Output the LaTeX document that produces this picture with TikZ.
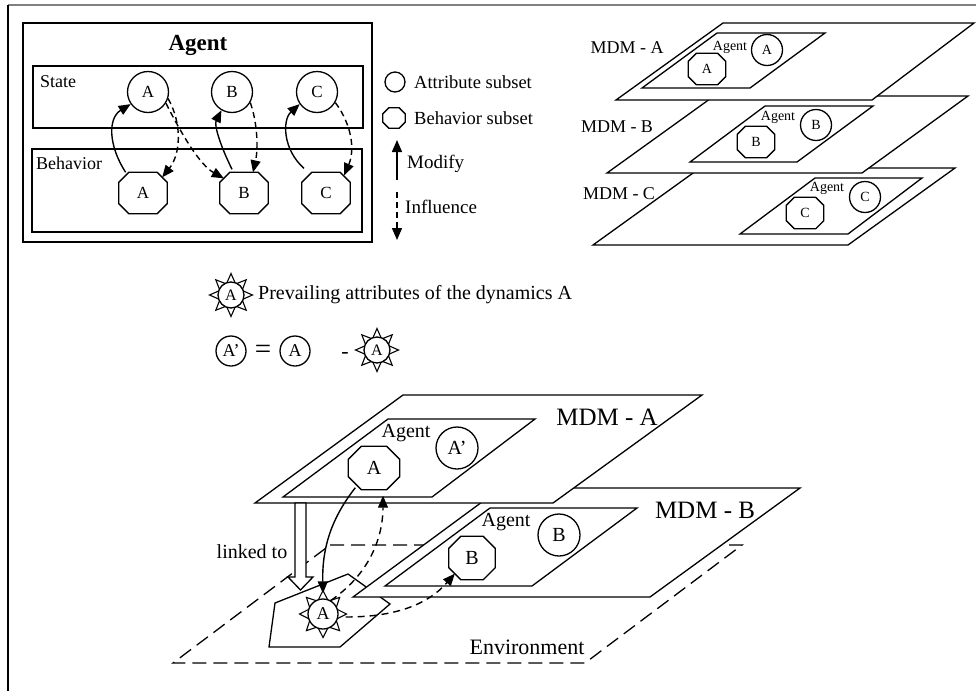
\documentclass[tikz,border=0pt]{standalone}
\usepackage{fontspec}
\setmainfont{Liberation Serif}
\usetikzlibrary{arrows.meta,calc}
\newcommand{\fs}[1]{\fontsize{#1}{#1}\selectfont}
% octagon node: name, position, width, height, chamfer, font size, text
\newcommand{\octnode}[7]{%
  \node[oct, minimum width=#3pt, minimum height=#4pt] (#1) at (#2) {};
  \draw[ln, fill=white, line join=miter] ([xshift=#5pt]#1.north west) -- ([xshift=-#5pt]#1.north east) -- ([yshift=-#5pt]#1.north east) -- ([yshift=#5pt]#1.south east) -- ([xshift=-#5pt]#1.south east) -- ([xshift=#5pt]#1.south west) -- ([yshift=#5pt]#1.south west) -- ([yshift=-#5pt]#1.north west) -- cycle;
  \node[lbl, font=\fs{#6}] (#1-t) at (#1) {#7};
}
% sun node: name, position, radius, font size, text
\newcommand{\sunnode}[5]{%
  \begin{scope}[shift={(#2)}]
    \foreach \a in {0,45,...,315}
      \draw[line width=1.1pt, fill=white, line join=miter] (\a-18:#3) -- (\a:#3+8.5) -- (\a+18:#3) -- cycle;
  \end{scope}
  \node[attr, minimum size=2*#3pt, font=\fs{#4}] (#1) at (#2) {#5};
}
\begin{document}
\begin{tikzpicture}[x=1pt,y=-1pt,
  ln/.style={line width=1.3pt},
  plane/.style={line width=1.3pt, fill=white, line join=miter},
  attr/.style={circle, draw, line width=1.3pt, fill=white, inner sep=0pt},
  oct/.style={draw=none, inner sep=0pt},
  lbl/.style={inner sep=0pt},
  modarrow/.style={line width=1.4pt, -{Triangle[length=12pt,width=10pt]}},
  infarrow/.style={line width=1.4pt, dash pattern=on 6pt off 4pt, -{Triangle[length=12pt,width=10pt]}},
  envline/.style={line width=1.3pt, dash pattern=on 14pt off 7pt},
  curvedash/.style={line width=1.4pt, dash pattern=on 7pt off 5pt, -{Triangle[length=12pt,width=10pt]}},
]
\useasboundingbox (0,0) rectangle (976,691);
% frame
\draw[gray, line width=1.3pt] (8,5) -- (976,5);
\draw[line width=1.2pt] (8,5) -- (8,691);

% ---------------- Agent box ----------------
\draw[line width=1.4pt] (23,23) rectangle (372,242);
\node[lbl, font=\bfseries\fs{23}] (ttl) at (198,45) {Agent};
\draw[line width=1.4pt] (33,66) rectangle (363,128);
\node[lbl, anchor=west, font=\fs{18}] (stl) at (40,82) {State};
\draw[line width=1.4pt] (32,149) rectangle (362,232);
\node[lbl, anchor=west, font=\fs{18}] (bhl) at (36,163) {Behavior};

\node[attr, minimum size=41pt, font=\fs{17}] (sA) at (148,92) {A};
\node[attr, minimum size=41pt, font=\fs{17}] (sB) at (232,92) {B};
\node[attr, minimum size=41pt, font=\fs{17}] (sC) at (317,92) {C};
\octnode{bA}{143,193}{48}{41}{10}{17}{A}
\octnode{bB}{244,193}{48}{41}{10}{17}{B}
\octnode{bC}{326,193}{48}{41}{10}{17}{C}

\draw[modarrow] (bA.130) .. controls (108,145) and (108,118) .. (sA.215);
\draw[infarrow] (sA.-18) .. controls (183,125) and (180,155) .. ([xshift=-5pt,yshift=-5pt]bA.north east);
\draw[infarrow] (sA.-32) .. controls (182,135) and (200,165) .. ([xshift=4pt,yshift=-6pt]bB.north west);
\draw[modarrow] ([xshift=-12pt,yshift=3pt]bB.north) .. controls (220,145) and (214,125) .. (sB.240);
\draw[infarrow] (sB.-30) .. controls (258,125) and (258,150) .. ([xshift=9pt]bB.north);
\draw[modarrow] ([xshift=-22pt,yshift=4pt]bC.north) .. controls (283,150) and (282,120) .. (sC.215);
\draw[infarrow] (sC.-30) .. controls (352,125) and (355,150) .. ([xshift=-6pt,yshift=-3pt]bC.north east);

% ---------------- Legend ----------------
\node[attr, minimum size=20pt] (lgC) at (395,82) {};
\node[lbl, anchor=west, font=\fs{18.5}] (lgCt) at (414,82) {Attribute subset};
\octnode{lgO}{394,118}{22}{20}{6}{10}{}
\node[lbl, anchor=west, font=\fs{18.5}] (lgOt) at (414,118) {Behavior subset};
\coordinate (mdA) at (397,180);
\coordinate (mdB) at (397,140);
\draw[modarrow] (mdA) -- (mdB);
\node[lbl, anchor=west, font=\fs{19}] (mdt) at (407,164) {Modify};
\coordinate (inA) at (397,192);
\coordinate (inB) at (397,240);
\draw[infarrow] (inA) -- (inB);
\node[lbl, anchor=west, font=\fs{19}] (inft) at (405,207) {Influence};

% ---------------- MDM stack (top right) ----------------
\draw[plane] (700,168) -- (955,168) -- (848,245) -- (593,245) -- cycle;
\draw[plane] (815,178) -- (922,178) -- (848,234) -- (740,234) -- cycle;
\node[lbl, font=\fs{14}] (agC) at (827,188) {Agent};
\node[attr, minimum size=31pt, font=\fs{14}] (tcC) at (865,197) {C};
\octnode{toC}{805,213}{37}{31}{8}{14}{C}

\draw[plane] (714,96) -- (968,96) -- (862,173) -- (607,173) -- cycle;
\draw[plane] (765,106) -- (873,106) -- (797,162) -- (690,162) -- cycle;
\node[lbl, font=\fs{14}] (agB) at (778,117) {Agent};
\node[attr, minimum size=31pt, font=\fs{14}] (tcB) at (816,125) {B};
\octnode{toB}{756,142}{37}{31}{8}{14}{B}

\draw[plane] (723,23) -- (974,23) -- (872,100) -- (616,100) -- cycle;
\draw[plane] (717,33) -- (825,33) -- (750,88) -- (642,88) -- cycle;
\node[lbl, font=\fs{14}] (agA) at (730,47) {Agent};
\node[attr, minimum size=31pt, font=\fs{14}] (tcA) at (767,50) {A};
\octnode{toA}{707,69}{37}{31}{8}{14}{A}

\node[lbl, font=\fs{18}] (mdmA) at (627,48) {MDM - A};
\node[lbl, font=\fs{18}] (mdmB) at (617,127) {MDM - B};
\node[lbl, font=\fs{18}] (mdmC) at (619,194) {MDM - C};

% ---------------- Prevailing attributes ----------------
\sunnode{pvS}{231,295}{13}{16}{A}
\node[lbl, anchor=west, font=\fs{20}] (pvt) at (258,295) {Prevailing attributes of the dynamics A};
\node[attr, minimum size=30pt, font=\fs{18}] (fAp) at (231,351) {A’};
\node[lbl, font=\fs{29}] (feq) at (263,352) {=};
\node[attr, minimum size=30pt, font=\fs{18}] (fA) at (295,351) {A};
\node[lbl, font=\fs{22}] (fmin) at (345,355) {-};
\sunnode{fS}{377,350}{13}{16}{A}

% ---------------- Bottom scene ----------------
\draw[envline] (330,545) -- (742,545) -- (585,663) -- (173,663) -- cycle;
\node[lbl, font=\fs{22}] (envt) at (527,647) {Environment};
\draw[ln, fill=white, line join=miter] (275,603) -- (348,574) -- (390,604) -- (340,647) -- (269,647) -- cycle;

\draw[plane] (501,488) -- (800,488) -- (650,597) -- (353,597) -- cycle;
\draw[plane] (490,508) -- (637,508) -- (532,586) -- (385,586) -- cycle;
\node[lbl, font=\fs{20}] (bagB) at (506,522) {Agent};
\node[attr, minimum size=42pt, font=\fs{20}] (bcB) at (559,535) {B};
\octnode{boB}{472,558}{46}{43}{12}{20}{B}
\node[lbl, font=\fs{25}] (bmdmB) at (705,510) {MDM - B};

\draw[plane] (403,395) -- (702,395) -- (553,503) -- (255,503) -- cycle;
\draw[plane] (388,419) -- (535,419) -- (432,497) -- (283,497) -- cycle;
\node[lbl, font=\fs{20}] (bagA) at (406,433) {Agent};
\node[attr, minimum size=42pt, font=\fs{20}] (bcA) at (457,448) {A’};
\octnode{boA}{374,468}{51}{43}{13}{20}{A}
\node[lbl, font=\fs{25}] (bmdmA) at (607,417) {MDM - A};

% linked to
\draw[ln, fill=white, line join=miter] (295,503) -- (306,503) -- (306,577) -- (313,577) -- (300.5,590) -- (288,577) -- (295,577) -- cycle;
\node[lbl, font=\fs{20}] (lnk) at (252,552) {linked to};

\sunnode{sunA}{323,614}{15}{18}{A}

\draw[modarrow] ([xshift=7pt,yshift=2pt]boA.south west) .. controls (330,520) and (322,550) .. ([yshift=5pt]sunA.north);
\draw[curvedash] (sunA.60) .. controls (375,570) and (383,530) .. ([xshift=9pt,yshift=-6pt]boA.south);
\draw[curvedash] ([xshift=7pt,yshift=-3pt]sunA.east) .. controls (400,617) and (430,602) .. ([xshift=6pt,yshift=6pt]boB.south west);
\end{tikzpicture}
\end{document}
